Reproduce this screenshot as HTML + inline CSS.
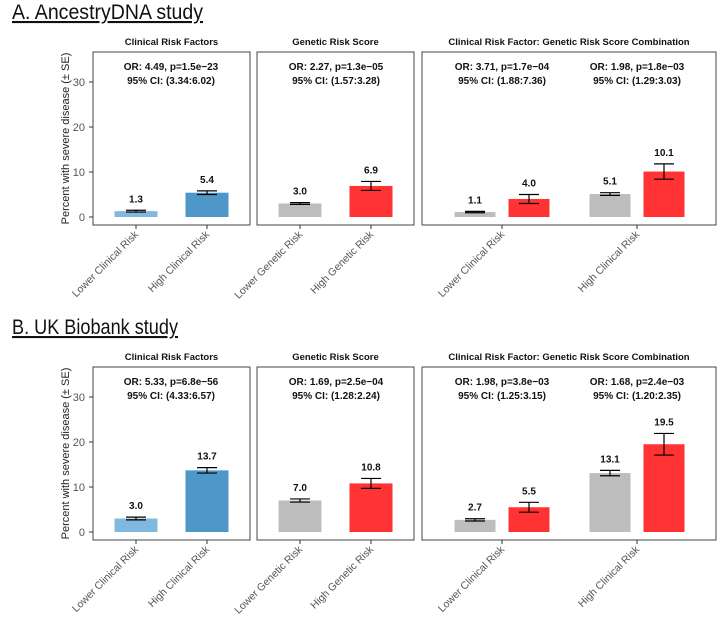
<!DOCTYPE html>
<html><head><meta charset="utf-8"><style>
body{margin:0;background:#fff;}
svg{display:block;font-family:"Liberation Sans",Arial,sans-serif;}
</style></head><body>
<svg id="fig" width="720" height="619"></svg>
<script>
const studies = ["A. AncestryDNA study","B. UK Biobank study"];
const stripTitles = ["Clinical Risk Factors","Genetic Risk Score","Clinical Risk Factor: Genetic Risk Score Combination"];
const xLabels1 = ["Lower Clinical Risk","High Clinical Risk"];
const xLabels2 = ["Lower Genetic Risk","High Genetic Risk"];
const xLabels3 = ["Lower Clinical Risk","High Clinical Risk"];
const yTicks = [0,10,20,30];
const valsA1 = [1.3,5.4], seA1 = [0.2,0.4];
const valsA2 = [3.0,6.9], seA2 = [0.2,1.0];
const valsA3 = [1.1,4.0,5.1,10.1], seA3 = [0.15,1.0,0.3,1.7];
const valsB1 = [3.0,13.7], seB1 = [0.3,0.6];
const valsB2 = [7.0,10.8], seB2 = [0.35,1.1];
const valsB3 = [2.7,5.5,13.1,19.5], seB3 = [0.25,1.1,0.6,2.4];
const annA = [["OR: 4.49, p=1.5e\u221223","95% CI: (3.34:6.02)"],["OR: 2.27, p=1.3e\u221205","95% CI: (1.57:3.28)"],["OR: 3.71, p=1.7e\u221204","95% CI: (1.88:7.36)"],["OR: 1.98, p=1.8e\u221203","95% CI: (1.29:3.03)"]];
const annB = [["OR: 5.33, p=6.8e\u221256","95% CI: (4.33:6.57)"],["OR: 1.69, p=2.5e\u221204","95% CI: (1.28:2.24)"],["OR: 1.98, p=3.8e\u221203","95% CI: (1.25:3.15)"],["OR: 1.68, p=2.4e\u221203","95% CI: (1.20:2.35)"]];

const NS="http://www.w3.org/2000/svg";
const svg=document.getElementById('fig');
function el(tag,attrs,parent,text){const e=document.createElementNS(NS,tag);for(const k in attrs)e.setAttribute(k,attrs[k]);if(text!==undefined)e.textContent=text;(parent||svg).appendChild(e);return e;}

const PX=4.5;
const panelsX=[[93,250],[257,414],[422,716]];
function drawStudy(si,off,v1,s1,v2,s2,v3,s3,ann){
  const g=el('g',{});
  
  
  const top=52+off,bot=225+off,y0=217+off;
  const y=v=>y0-v*PX;
  const h=el('text',{x:12,y:19+off,'font-size':21,fill:'#111','text-decoration':'underline',textLength:si===0?191:166,lengthAdjust:'spacingAndGlyphs'},g,studies[si]);
  
  
  const yt=el('text',{transform:`translate(69,${(top+bot)/2}) rotate(-90)`,'text-anchor':'middle','font-size':11,fill:'#222'},g,'Percent with severe disease (\u00b1 SE)');
  
  
  yTicks.forEach(t=>{
    const tl=el('text',{x:85,y:y(t)+4,'text-anchor':'end','font-size':11,fill:'#555'},g,String(t));
    
    
    el('line',{x1:89,x2:93,y1:y(t),y2:y(t),stroke:'#333','stroke-width':1},g);
  });
  const bw=43;
  function bar(cx,v,se,color,w){
    const b=el('rect',{x:cx-w/2,y:y(v),width:w,height:v*PX,fill:color},g);
    
    
    const t=y(v+se),bb=y(v-se);
    el('line',{x1:cx,x2:cx,y1:t,y2:bb,stroke:'#000','stroke-width':1.2},g);
    el('line',{x1:cx-10,x2:cx+10,y1:t,y2:t,stroke:'#000','stroke-width':1.2},g);
    el('line',{x1:cx-10,x2:cx+10,y1:bb,y2:bb,stroke:'#000','stroke-width':1.2},g);
    const l=el('text',{x:cx,y:t-8,'text-anchor':'middle','font-size':10,'font-weight':'bold',fill:'#111'},g,v.toFixed(1));
    
    
  }
  function xlab(cx,txt){
    el('line',{x1:cx,x2:cx,y1:bot,y2:bot+4,stroke:'#333','stroke-width':1},g);
    const t=el('text',{transform:`translate(${cx+3},${bot+10}) rotate(-45)`,'text-anchor':'end','font-size':10.5,fill:'#555'},g,txt);
    
    
  }
  function annot(cx,lines){
    lines.forEach((s,i)=>{
      const t=el('text',{x:cx,y:top+18+i*14,'text-anchor':'middle','font-size':10,'font-weight':'bold',fill:'#111'},g,s);
      
      
    });
  }
  panelsX.forEach((p,i)=>{
    const r=el('rect',{x:p[0],y:top,width:p[1]-p[0],height:bot-top,fill:'none',stroke:'#444','stroke-width':1},g);
    
    
    const st=el('text',{x:(p[0]+p[1])/2,y:top-7,'text-anchor':'middle','font-size':9.5,'font-weight':'bold',fill:'#111'},g,stripTitles[i]);
    
    
  });
  const c1=[136,207];
  bar(c1[0],v1[0],s1[0],'#80b9df',bw);bar(c1[1],v1[1],s1[1],'#4f97c9',bw);
  c1.forEach((c,i)=>xlab(c,xLabels1[i]));
  annot(171,ann[0]);
  const c2=[300,371];
  bar(c2[0],v2[0],s2[0],'#bdbdbd',bw);bar(c2[1],v2[1],s2[1],'#ff3333',bw);
  c2.forEach((c,i)=>xlab(c,xLabels2[i]));
  annot(336,ann[1]);
  const c3=[502,637];
  const w3=41;
  bar(c3[0]-27,v3[0],s3[0],'#bdbdbd',w3);bar(c3[0]+27,v3[1],s3[1],'#ff3333',w3);
  bar(c3[1]-27,v3[2],s3[2],'#bdbdbd',w3);bar(c3[1]+27,v3[3],s3[3],'#ff3333',w3);
  c3.forEach((c,i)=>xlab(c,xLabels3[i]));
  annot(c3[0],ann[2]);annot(c3[1],ann[3]);
}
drawStudy(0,0,valsA1,seA1,valsA2,seA2,valsA3,seA3,annA);
drawStudy(1,315,valsB1,seB1,valsB2,seB2,valsB3,seB3,annB);
</script>
</body></html>
